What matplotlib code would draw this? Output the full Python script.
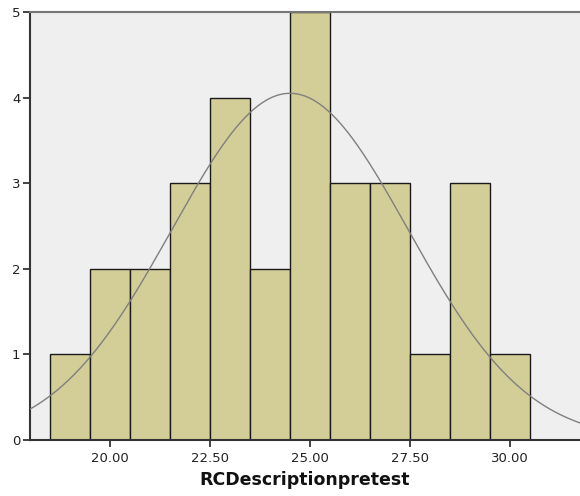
import numpy as np
import matplotlib
matplotlib.use("Agg")
import matplotlib.pyplot as plt

# Data
bin_left_edges = [18.5, 19.5, 20.5, 21.5, 22.5, 23.5, 24.5, 25.5, 26.5, 27.5, 28.5, 29.5]
counts = [1, 2, 2, 3, 4, 2, 5, 3, 3, 1, 3, 1]
bin_width = 1.0
curve_mean = 24.5
curve_sd = 2.955
x_ticks = [20.0, 22.5, 25.0, 27.5, 30.0]
x_tick_labels = ["20.00", "22.50", "25.00", "27.50", "30.00"]
y_ticks = [0, 1, 2, 3, 4, 5]
x_label = "RCDescriptionpretest"

fig = plt.figure(figsize=(5.8, 4.96), dpi=100)
ax = fig.add_axes([30/580, 56/496, 550/580, 428/496])
ax.set_facecolor("#EFEFEF")

ax.bar(bin_left_edges, counts, width=bin_width, align="edge",
       color="#D3CE97", edgecolor="#1a1a1a", linewidth=1.0, zorder=2)

xs = np.linspace(18.0, 31.75, 400)
n = sum(counts)
ys = n * bin_width / (curve_sd * np.sqrt(2 * np.pi)) * np.exp(-0.5 * ((xs - curve_mean) / curve_sd) ** 2)
ax.plot(xs, ys, color="#7f7f7f", linewidth=1.0, zorder=3)

ax.set_xlim(18.0, 31.75)
ax.set_ylim(0, 5)
ax.set_xticks(x_ticks)
ax.set_xticklabels(x_tick_labels)
ax.set_yticks(y_ticks)
ax.tick_params(axis="both", labelsize=9.5, colors="#222222", length=5, width=1.2)
ax.tick_params(axis="x", pad=4)
ax.tick_params(axis="y", pad=2)

for side in ["left", "bottom"]:
    ax.spines[side].set_color("#333333")
    ax.spines[side].set_linewidth(1.5)
ax.spines["top"].set_color("#777777")
ax.spines["top"].set_linewidth(1.5)
ax.spines["right"].set_visible(False)

ax.set_xlabel(x_label, fontsize=12.5, fontweight="bold", color="#111111", labelpad=4)

fig.savefig("out.png", dpi=100)
